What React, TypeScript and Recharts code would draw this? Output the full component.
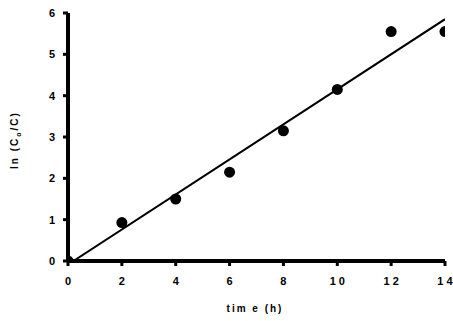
import React from 'react'
import { ComposedChart, Scatter, Line, XAxis, YAxis } from 'recharts'

const times = [0, 2, 4, 6, 8, 10, 12, 14]
const lnRatio = [0, 0.93, 1.5, 2.15, 3.15, 4.15, 5.55, 5.55]
const fitTimes = [0.2, 14]
const fitValues = [0, 5.85]
const xTicks = [0, 2, 4, 6, 8, 10, 12, 14]
const yTicks = [0, 1, 2, 3, 4, 5, 6]

const points = times.map((t, i) => ({ t, v: lnRatio[i] }))
const fit = fitTimes.map((t, i) => ({ t, v: fitValues[i] }))

const FONT = '"Liberation Sans", Arial, sans-serif'

function XTick({ x, y, payload }: any) {
  const label = String(payload.value).split('').join(' ')
  return (
    <text
      x={x}
      y={y + 17}
      textAnchor="middle"
      fontFamily={FONT}
      fontWeight="bold"
      fontSize={11}
      fill="#000"
      style={{ whiteSpace: 'pre' }}
    >
      {label}
    </text>
  )
}

function YTick({ x, y, payload }: any) {
  return (
    <text
      x={x - 6}
      y={y + 4}
      textAnchor="end"
      fontFamily={FONT}
      fontWeight="bold"
      fontSize={11}
      fill="#000"
    >
      {payload.value}
    </text>
  )
}

export default function App() {
  return (
    <div style={{ position: 'absolute', left: 0, top: 0, width: 453, height: 321, background: '#fff' }}>
      <ComposedChart width={453} height={321} margin={{ top: 13, right: 8, bottom: 0, left: 0 }}>
        <XAxis
          type="number"
          dataKey="t"
          domain={[0, 14]}
          ticks={xTicks}
          height={60}
          axisLine={{ stroke: '#000', strokeWidth: 4 }}
          tickSize={5}
          tickLine={{ stroke: '#000', strokeWidth: 3 }}
          tick={<XTick />}
          allowDataOverflow
        />
        <YAxis
          type="number"
          dataKey="v"
          domain={[0, 6]}
          ticks={yTicks}
          width={68}
          axisLine={{ stroke: '#000', strokeWidth: 4 }}
          tickSize={5}
          tickLine={{ stroke: '#000', strokeWidth: 3 }}
          tick={<YTick />}
          allowDataOverflow
        />
        <Line
          data={fit}
          dataKey="v"
          type="linear"
          stroke="#000"
          strokeWidth={2}
          dot={false}
          isAnimationActive={false}
        />
        <Scatter
          data={points}
          dataKey="v"
          fill="#000"
          shape={(p: any) => <circle cx={p.cx} cy={p.cy} r={5.5} fill="#000" />}
          isAnimationActive={false}
        />
        <text
          x={255}
          y={312}
          textAnchor="middle"
          fontFamily={FONT}
          fontWeight="bold"
          fontSize={10}
          letterSpacing={2}
          fill="#000"
        >
          tim e (h)
        </text>
        <text
          transform="translate(18,140) rotate(-90)"
          textAnchor="middle"
          fontFamily={FONT}
          fontWeight="bold"
          fontSize={10}
          letterSpacing={2}
          fill="#000"
        >
          ln (C<tspan fontSize={7} dy={3}>o</tspan>
          <tspan dy={-3}>/C)</tspan>
        </text>
      </ComposedChart>
    </div>
  )
}
